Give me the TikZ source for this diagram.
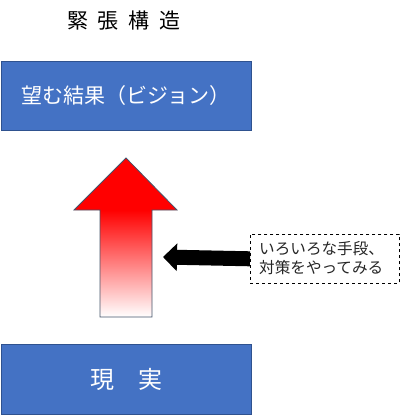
\documentclass[tikz,border=0pt]{standalone}
\usepackage{fontspec}
\setmainfont{Noto Sans CJK JP}
\usetikzlibrary{arrows.meta}
\definecolor{boxblue}{HTML}{4472C4}
\definecolor{boxedge}{HTML}{2F528F}
\definecolor{arrowedge}{HTML}{44546A}
\definecolor{notetext}{HTML}{262626}
\begin{document}
\begin{tikzpicture}[x=1pt,y=-1pt,
  bluebox/.style={draw=boxedge,line width=1pt,fill=boxblue,text=white,inner sep=0pt},
  notebox/.style={draw=black,dashed,line width=0.6pt,fill=white,inner sep=0pt}]
\useasboundingbox (0,0) rectangle (400,415);
% title
\node[font=\fontsize{21pt}{24pt}\selectfont] (title) at (124,21) {緊\hspace{10pt}張\hspace{10pt}構\hspace{10pt}造};
% top box
\node[bluebox, minimum width=250pt, minimum height=69pt, anchor=north west,
      font=\fontsize{21pt}{24pt}\selectfont] (goal) at (0.5,61)
  {望む結果（ビジョン）};
% bottom box
\node[bluebox, minimum width=250pt, minimum height=70pt, anchor=north west,
      font=\fontsize{24pt}{28pt}\selectfont] (real) at (0.5,344)
  {現　実};
% big arrow (shape)
\shade[top color=red, bottom color=white] (100,210) rectangle (152,317);
\fill[red] (74,210) -- (126,158) -- (177,210) -- cycle;
\draw[arrowedge, line width=0.8pt, line join=miter]
  (100,317) -- (100,210) -- (74,210) -- (126,158) -- (177,210) -- (152,210) -- (152,317) -- cycle;
\coordinate (bigarrow) at (163,257);
% note box
\node[notebox, minimum width=149pt, minimum height=49pt, anchor=north west] (note) at (250,234) {};
\node[anchor=west, align=left, inner sep=0pt, text=notetext,
      font=\fontsize{15.6pt}{19pt}\selectfont] (notetext) at (259,258)
  {いろいろな手段、\\対策をやってみる};
% black arrow
\draw[black, line width=15pt, -{Triangle[length=14pt, width=27pt]}] (note.west) -- (bigarrow);
\end{tikzpicture}
\end{document}
